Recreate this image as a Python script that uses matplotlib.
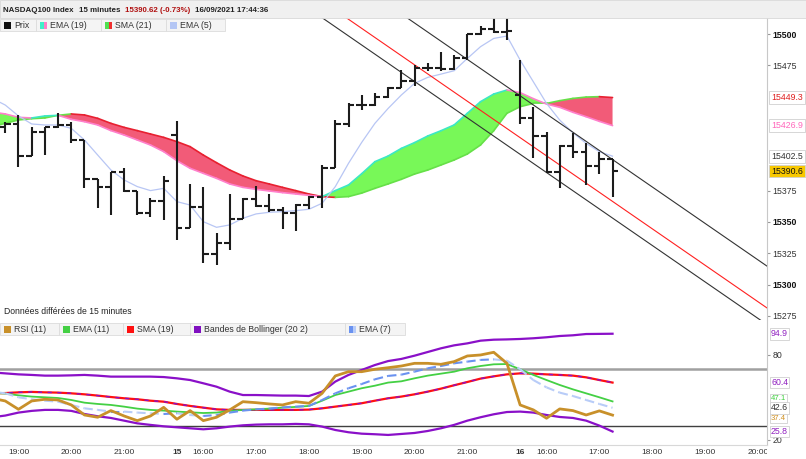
import numpy as np
import matplotlib
matplotlib.use("Agg")
import matplotlib.pyplot as plt
from matplotlib.patches import Rectangle
from matplotlib.transforms import blended_transform_factory, Bbox, TransformedBbox

plt.rcParams['font.family'] = ['Liberation Sans', 'DejaVu Sans']

W, H = 806, 459

# --- 15 min OHLC bars (14/09 18:45 -> 16/09 17:15) ---
bar_open = [15425.5, 15428.0, 15402.6, 15421.5, 15426.0, 15427.0, 15415.4, 15384.3, 15378.2, 15390.1,
            15374.7, 15357.4, 15366.7, 15419.4, 15344.9, 15362.2, 15324.2, 15332.9, 15352.4, 15368.3,
            15362.7, 15359.5, 15357.4, 15363.5, 15370.2, 15392.8, 15428.2, 15443.3, 15443.3, 15450.0,
            15456.6, 15462.7, 15472.6, 15472.6, 15471.8, 15480.5, 15499.7, 15503.7, 15501.5, 15451.3,
            15432.7, 15418.6, 15390.1, 15410.9, 15406.1, 15394.9, 15399.9]
bar_high = [15430.0, 15435.3, 15426.0, 15426.0, 15436.7, 15430.0, 15415.4, 15384.3, 15390.1, 15392.8,
            15374.7, 15368.8, 15386.7, 15430.6, 15380.0, 15378.2, 15340.9, 15372.3, 15368.8, 15378.7,
            15372.3, 15361.7, 15364.1, 15370.7, 15395.5, 15431.4, 15444.7, 15451.3, 15453.2, 15457.4,
            15471.2, 15475.2, 15477.1, 15485.9, 15483.2, 15499.7, 15506.5, 15515.0, 15515.0, 15479.2,
            15442.0, 15422.0, 15411.4, 15420.7, 15412.7, 15406.1, 15399.9]
bar_low = [15420.7, 15394.1, 15402.6, 15403.4, 15424.7, 15412.7, 15376.8, 15360.9, 15355.5, 15374.2,
           15355.5, 15354.2, 15351.6, 15335.6, 15344.9, 15317.0, 15315.6, 15327.6, 15352.4, 15362.2,
           15358.2, 15344.1, 15343.0, 15360.1, 15360.9, 15392.8, 15425.5, 15439.3, 15442.5, 15448.6,
           15456.6, 15458.5, 15470.7, 15470.7, 15471.0, 15479.2, 15499.2, 15500.6, 15495.2, 15428.1,
           15400.7, 15388.8, 15376.8, 15400.7, 15379.5, 15388.0, 15370.2]
bar_close = [15428.0, 15402.6, 15421.5, 15426.0, 15427.0, 15415.4, 15384.3, 15378.2, 15390.1, 15374.7,
             15357.4, 15366.7, 15382.7, 15344.9, 15362.2, 15324.2, 15332.9, 15352.4, 15368.3, 15362.7,
             15359.5, 15357.4, 15363.5, 15370.2, 15392.8, 15428.2, 15443.3, 15443.3, 15450.0, 15456.6,
             15462.7, 15472.6, 15472.6, 15471.8, 15480.5, 15499.7, 15503.7, 15501.5, 15502.6, 15432.7,
             15418.6, 15390.1, 15410.9, 15406.1, 15394.9, 15399.9, 15390.62]

# --- price indicators, from the bar before the first one (18:30) ---
ema19 = [15437.7, 15436.2, 15433.5, 15433.0, 15434.6, 15435.1, 15431.9, 15430.0, 15427.4, 15422.9,
         15419.4, 15415.4, 15411.4, 15406.1, 15398.9, 15392.8, 15388.8, 15384.8, 15380.3, 15377.6,
         15376.0, 15374.7, 15373.4, 15372.3, 15371.2, 15370.2, 15375.0, 15379.5, 15388.5, 15398.1,
         15402.6, 15408.7, 15413.3, 15418.6, 15422.8, 15427.4, 15436.7, 15446.0, 15452.1, 15455.3,
         15453.2, 15448.4, 15444.1, 15441.5, 15437.5, 15434.0, 15430.3, 15426.9]
sma21 = [15426.0, 15428.7, 15431.4, 15432.4, 15433.0, 15435.1, 15436.2, 15435.4, 15432.7, 15428.7,
         15425.5, 15422.9, 15420.2, 15417.5, 15414.1, 15410.1, 15403.4, 15397.3, 15391.5, 15386.7,
         15382.9, 15380.3, 15377.6, 15375.0, 15372.3, 15370.2, 15369.6, 15370.2, 15373.0, 15376.8,
         15380.3, 15384.0, 15388.2, 15391.4, 15395.4, 15399.4, 15404.2, 15411.4, 15422.8, 15436.7,
         15442.0, 15444.6, 15444.6, 15446.8, 15448.6, 15449.7, 15450.0, 15449.3]
ema5 = [15448.7, 15443.3, 15434.6, 15428.2, 15427.4, 15427.4, 15424.7, 15415.4, 15403.4, 15391.5,
        15383.5, 15378.2, 15375.0, 15376.8, 15366.2, 15363.5, 15350.2, 15345.7, 15347.6, 15352.9,
        15356.4, 15357.7, 15358.2, 15359.0, 15360.1, 15364.9, 15378.2, 15396.8, 15413.5, 15428.7,
        15440.6, 15451.3, 15460.6, 15465.4, 15468.0, 15470.7, 15480.5, 15489.9, 15496.5, 15498.4,
        15479.2, 15461.9, 15444.6, 15431.3, 15421.2, 15412.7, 15406.1, 15402.5]

# --- channel: (bar index, price) at both ends ---
chan_x = [20, 60]
chan_upper = [15588.8, 15298.0]
chan_mid = [15555.4, 15264.6]
chan_lower = [15542.1, 15251.3]

# --- lower panel: RSI(11) and its studies ---
rsi = [49.3, 47.4, 41.5, 47.4, 48.6, 48.1, 44.6, 37.5, 35.9, 40.6, 36.8, 33.5, 36.8, 42.9, 34.5, 40.6,
       33.5, 35.9, 41.1, 46.9, 46.2, 45.3, 44.6, 46.9, 45.8, 52.8, 65.1, 68.1, 68.1, 69.8, 70.9, 72.1,
       74.0, 74.0, 73.3, 75.2, 79.2, 79.9, 81.8, 74.0, 44.6, 41.1, 35.2, 41.8, 40.6, 37.5, 40.4, 37.4]
ema11_rsi = [53.3, 52.6, 51.4, 50.5, 50.0, 49.5, 48.1, 46.2, 45.3, 44.6, 43.4, 42.0, 41.1, 40.6, 39.9,
             39.4, 38.9, 39.2, 40.4, 41.1, 41.5, 42.0, 42.7, 43.2, 43.9, 47.6, 51.6, 54.0, 56.4, 58.2,
             60.4, 61.3, 63.4, 65.3, 66.7, 68.1, 70.5, 72.1, 73.3, 73.5, 69.8, 65.8, 62.2, 58.7, 55.6,
             52.8, 50.0, 47.1]
sma19_rsi = [52.8, 53.0, 53.5, 53.8, 53.5, 53.3, 52.8, 52.1, 51.2, 50.2, 49.3, 48.6, 47.6, 46.9, 45.3,
             43.9, 42.7, 41.5, 41.1, 41.1, 41.1, 41.1, 41.1, 41.1, 41.3, 42.2, 43.4, 44.6, 45.8, 47.6,
             49.3, 50.5, 52.1, 54.0, 56.1, 58.5, 60.8, 63.2, 64.8, 66.2, 66.9, 66.7, 66.2, 65.8, 65.3,
             64.1, 62.2, 60.4]
bb_upper = [67.6, 66.9, 66.2, 65.8, 65.3, 65.3, 65.5, 65.8, 65.3, 64.6, 64.6, 64.6, 64.6, 64.3, 63.4,
            62.2, 59.9, 57.5, 54.0, 51.6, 51.6, 51.4, 51.2, 51.2, 50.9, 54.0, 61.1, 65.8, 69.3, 72.8,
            75.6, 77.1, 79.4, 82.0, 84.6, 86.7, 88.1, 90.0, 90.7, 90.9, 91.2, 91.7, 92.4, 93.3, 93.8,
            94.7, 94.8, 94.9]
bb_lower = [35.9, 37.1, 39.2, 40.4, 41.1, 41.1, 40.4, 38.2, 36.6, 35.4, 33.5, 31.6, 30.5, 29.5, 28.8,
            28.1, 27.4, 28.1, 29.3, 30.2, 30.7, 30.9, 30.9, 31.2, 30.9, 29.3, 26.9, 25.3, 24.3, 23.9,
            23.4, 24.1, 24.8, 26.2, 28.1, 30.5, 33.5, 35.9, 38.0, 39.6, 39.9, 39.2, 37.5, 36.1, 35.4,
            33.5, 30.0, 25.8]
ema7_rsi = [54.0, 52.8, 50.0, 48.6, 47.6, 46.9, 44.6, 42.2, 41.1, 39.9, 39.9, 39.2, 38.7, 38.2, 38.7,
            37.5, 36.8, 37.5, 39.2, 40.6, 41.5, 42.0, 42.9, 43.4, 43.9, 48.1, 52.8, 56.4, 59.4, 62.7,
            65.1, 66.0, 68.1, 70.5, 72.1, 74.0, 75.2, 76.4, 76.8, 75.9, 69.8, 62.2, 57.0, 53.3, 50.9,
            48.1, 45.3, 42.6]

# session slots: 14/09 18:45-21:45, 15/09 and 16/09 15:30-21:45
slots = []
for day, start in [("14", 18 * 60 + 45), ("15", 15 * 60 + 30), ("16", 15 * 60 + 30)]:
    for m in range(start, 22 * 60, 15):
        slots.append((day, m))

bx = np.arange(len(bar_close))
ix = np.arange(-1, len(rsi) - 1)
XLIM = (-0.4, 57.7)


def fx(x):
    return x / W


def fy(y):
    return 1 - y / H


def dir_line(a, x, y, up, down, **kw):
    for i in range(len(x) - 1):
        c = up if y[i + 1] >= y[i] else down
        a.plot(x[i:i + 2], y[i:i + 2], color=c, solid_capstyle='round', **kw)


fig = plt.figure(figsize=(W / 100, H / 100), dpi=100)
ax = fig.add_axes([0, fy(320), fx(767), (320 - 18) / H])
ax2 = fig.add_axes([0, fy(445), fx(767), (445 - 321) / H])

for a in (ax, ax2):
    for s in ('top', 'left'):
        a.spines[s].set_visible(False)
    a.spines['right'].set_color('#c8c8c8')
    a.yaxis.tick_right()
    a.tick_params(axis='y', direction='out', length=2, color='#999999',
                  labelsize=6.3, pad=2, labelcolor='#333333')
ax.spines['bottom'].set_visible(False)
ax2.spines['bottom'].set_color('#d8d8d8')

# ---------- main panel ----------
e19 = np.array(ema19)
s21 = np.array(sma21)
ax.fill_between(ix, e19, s21, where=e19 >= s21, interpolate=True, color='#78f858', lw=0, zorder=1)
ax.fill_between(ix, e19, s21, where=e19 < s21, interpolate=True, color='#f25b78', lw=0, zorder=1)
dir_line(ax, ix, s21, '#66e048', '#e82030', lw=1.2, zorder=1.5)
dir_line(ax, ix, e19, '#3ce8c4', '#ff80cc', lw=1.2, zorder=1.5)
ax.plot(ix, ema5, color='#b8c6f4', lw=0.9, zorder=2)

ax.plot(chan_x, chan_upper, color='#333333', lw=0.8, zorder=2)
ax.plot(chan_x, chan_mid, color='#ff2020', lw=0.8, zorder=2)
ax.plot(chan_x, chan_lower, color='#333333', lw=0.8, zorder=2)

ax.vlines(bx, bar_low, bar_high, color='#1c1c1c', lw=1.5, zorder=3)
ax.hlines(bar_open, bx - 0.42, bx, color='#1c1c1c', lw=1.5, zorder=3)
ax.hlines(bar_close, bx, bx + 0.42, color='#1c1c1c', lw=1.5, zorder=3)

pticks = [15275, 15300, 15325, 15350, 15375, 15475, 15500]
ax.set_yticks(pticks, [str(t) for t in pticks])
for t, lab in zip(pticks, ax.get_yticklabels()):
    if t % 50 == 0:
        lab.set_fontweight('bold')
        lab.set_color('#111111')
ax.set_xticks([])
ax.set_ylim(15271.7, 15512.8)
ax.set_xlim(*XLIM)

tr = blended_transform_factory(ax.transAxes, ax.transData)
for v, txt, tc, fc in [(15449.3, '15449.3', '#e02020', 'white'),
                       (15426.9, '15426.9', '#ff66bb', 'white'),
                       (15402.5, '15402.5', '#333333', 'white'),
                       (15390.6, '15390.6', '#111111', '#f8c800')]:
    ax.annotate(txt, xy=(1, v), xycoords=tr, xytext=(4, 0), textcoords='offset pixels',
                ha='left', va='center', fontsize=6.3, color=tc, zorder=10, annotation_clip=False,
                bbox=dict(boxstyle='square,pad=0.22', fc=fc, ec='#d0d0d0', lw=0.6))

# ---------- lower panel ----------
ax2.axhline(70, color='#a0a0a0', lw=1.8, zorder=1)
ax2.axhline(30, color='#404040', lw=1.0, zorder=1)
ax2.plot(ix, bb_upper, color='#8a10c8', lw=1.6, zorder=2)
ax2.plot(ix, bb_lower, color='#8a10c8', lw=1.6, zorder=2)
ax2.plot(ix, sma19_rsi, color='#ff1010', lw=1.6, zorder=2)
ax2.plot(ix, sma19_rsi, color='#8a10c8', lw=1.0, dashes=(3, 4), zorder=2.1)
ax2.plot(ix, ema11_rsi, color='#44d044', lw=1.3, zorder=2.2)
dir_line(ax2, ix, ema7_rsi, '#6a92f0', '#b8ccf8', lw=1.5, dashes=(4, 2), zorder=2.3)
ax2.plot(ix, rsi, color='#c8902a', lw=2.0, zorder=3)
ax2.set_yticks([20, 80], ['20', '80'])

# time axis
tpos, tlab, tbold = [], [], []
for i, (day, m) in enumerate(slots):
    if i > XLIM[1]:
        break
    if day != "14" and m == 15 * 60 + 30:
        tpos.append(i)
        tlab.append(day)
        tbold.append(True)
    elif m % 60 == 0:
        tpos.append(i)
        tlab.append("%d:00" % (m // 60))
        tbold.append(False)
ax2.set_xticks(tpos, tlab)
ax2.tick_params(axis='x', length=0, labelsize=6, pad=3, labelcolor='#333333')
clip = TransformedBbox(Bbox([[0, 0], [767 / W, 1]]), fig.transFigure)
for lab, b in zip(ax2.get_xticklabels(), tbold):
    if b:
        lab.set_fontweight('bold')
    lab.set_clip_box(clip)
    lab.set_clip_on(True)
ax2.set_ylim(16.3, 103.9)
ax2.set_xlim(*XLIM)

tr2 = blended_transform_factory(ax2.transAxes, ax2.transData)
# (value, text, colour, vertical nudge in px, font size, zorder)
for v, txt, tc, dy, fs, z in [(94.9, '94.9', '#9020c0', 0, 6.3, 10),
                              (60.4, '60.4', '#9020c0', 0, 6.3, 10),
                              (47.1, '47.1', '#40d040', 3, 5.6, 10),
                              (37.4, '37.4', '#d09020', -3, 5.6, 10),
                              (42.6, '42.6', '#333333', 0, 6.3, 11),
                              (25.8, '25.8', '#9020c0', 0, 6.3, 10)]:
    ax2.annotate(txt, xy=(1, v), xycoords=tr2, xytext=(4, dy), textcoords='offset pixels',
                 ha='left', va='center', fontsize=fs, color=tc, zorder=z, annotation_clip=False,
                 bbox=dict(boxstyle='square,pad=0.15', fc='white', ec='#d0d0d0', lw=0.6))


# ---------- header and legend strips ----------
def cell(x0, y0, x1, y1, fc, ec):
    fig.add_artist(Rectangle((fx(x0), fy(y1)), fx(x1 - x0), (y1 - y0) / H,
                             transform=fig.transFigure, fc=fc, ec=ec, lw=0.6, zorder=5))


def swatch(x, y, colors):
    n = len(colors)
    for k, c in enumerate(colors):
        fig.add_artist(Rectangle((fx(x + k * 7 / n), fy(y + 3.5)), fx(7 / n), 7 / H,
                                 transform=fig.transFigure, fc=c, ec='none', zorder=6))


cell(0, 0, 806, 18, '#f0f0f0', '#d8d8d8')
hdr = [(3, 'NASDAQ100 Index', '#222222'), (79, '15 minutes', '#222222'),
       (125, '15390.62 (-0.73%)', '#b01010'), (195, '16/09/2021 17:44:36', '#222222')]
for x, s, c in hdr:
    fig.text(fx(x), fy(10.5), s, fontsize=5.7, fontweight='bold', color=c, va='center', zorder=7)

top_leg = [(0, 36, 'Prix', ['#111111']),
           (36, 101, 'EMA (19)', ['#40f0c8', '#ff80c8']),
           (101, 166, 'SMA (21)', ['#50e050', '#f03030']),
           (166, 225, 'EMA (5)', ['#b4c6f4'])]
for x0, x1, s, cols in top_leg:
    cell(x0, 19, x1, 31, '#f4f4f4', '#dcdcdc')
    swatch(x0 + 4, 25, cols)
    fig.text(fx(x0 + 14), fy(25.5), s, fontsize=6.3, color='#333333', va='center', zorder=7)

fig.text(fx(4), fy(311), 'Données différées de 15 minutes', fontsize=6.2, color='#222222',
         va='center', zorder=7)

low_leg = [(0, 59, 'RSI (11)', ['#c8902a']),
           (59, 123, 'EMA (11)', ['#44d044']),
           (123, 190, 'SMA (19)', ['#ff1010']),
           (190, 345, 'Bandes de Bollinger (20 2)', ['#8010c0']),
           (345, 405, 'EMA (7)', ['#6a92f0', '#b8ccf8'])]
for x0, x1, s, cols in low_leg:
    cell(x0, 323, x1, 335, '#f4f4f4', '#dcdcdc')
    swatch(x0 + 4, 329, cols)
    fig.text(fx(x0 + 14), fy(329.5), s, fontsize=6.3, color='#333333', va='center', zorder=7)

fig.savefig('out.png', dpi=100)
